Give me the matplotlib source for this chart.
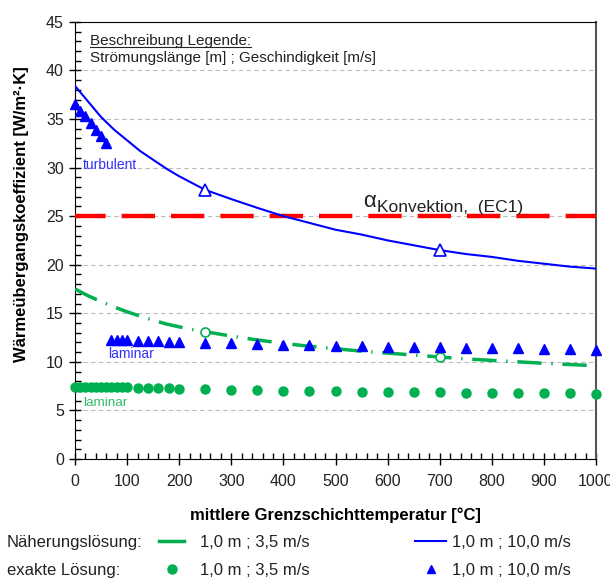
import matplotlib.pyplot as plt
import numpy as np
from matplotlib.lines import Line2D
from matplotlib.ticker import MultipleLocator

plt.rcParams["font.family"] = ["Liberation Sans", "DejaVu Sans"]

# Naeherungsloesung (approximation curves)
temp_curve = [0, 25, 50, 75, 100, 125, 150, 175, 200, 225, 250, 300, 350, 400, 450,
              500, 550, 600, 650, 700, 750, 800, 850, 900, 950, 1000]
alpha_turb_10 = [38.4, 36.8, 35.2, 33.9, 32.8, 31.7, 30.8, 29.9, 29.1, 28.4, 27.7,
                 26.75, 25.85, 25.0, 24.3, 23.6, 23.1, 22.5, 22.0, 21.5, 21.1, 20.8,
                 20.4, 20.1, 19.8, 19.6]
alpha_lam_35 = [17.5, 16.8, 16.2, 15.65, 15.15, 14.7, 14.28, 13.9, 13.6, 13.33, 13.1,
                12.65, 12.25, 11.9, 11.6, 11.35, 11.1, 10.9, 10.7, 10.5, 10.3, 10.15,
                10.0, 9.85, 9.72, 9.6]
temp_check = [250, 700]
check_turb_10 = [27.7, 21.5]
check_lam_35 = [13.1, 10.5]

# exakte Loesung, 1,0 m ; 10,0 m/s (turbulent up to 60 degC, laminar above)
temp_exact_turb = [0, 10, 20, 30, 40, 50, 60]
exact_turb_10 = [36.5, 35.8, 35.3, 34.6, 33.9, 33.2, 32.5]
temp_exact_lam = [70, 80, 90, 100, 120, 140, 160, 180, 200, 250, 300, 350, 400, 450,
                  500, 550, 600, 650, 700, 750, 800, 850, 900, 950, 1000]
exact_lam_10 = [12.2, 12.2, 12.2, 12.2, 12.15, 12.1, 12.1, 12.05, 12.0, 11.95, 11.9,
                11.85, 11.75, 11.7, 11.65, 11.6, 11.55, 11.5, 11.5, 11.45, 11.4,
                11.4, 11.35, 11.3, 11.25]

# exakte Loesung, 1,0 m ; 3,5 m/s
temp_exact_35 = [0, 10, 20, 30, 40, 50, 60, 70, 80, 90, 100, 120, 140, 160, 180, 200,
                 250, 300, 350, 400, 450, 500, 550, 600, 650, 700, 750, 800, 850, 900,
                 950, 1000]
exact_35 = [7.45, 7.45, 7.45, 7.45, 7.44, 7.43, 7.42, 7.41, 7.4, 7.38, 7.36, 7.34,
            7.32, 7.3, 7.28, 7.25, 7.18, 7.12, 7.07, 7.02, 6.98, 6.95, 6.92, 6.9,
            6.88, 6.85, 6.83, 6.8, 6.8, 6.78, 6.76, 6.72]

alpha_ec1 = 25.0

blue = "#0000ff"
green = "#00b050"
red = "#ff0000"
dark = "#222222"

fig = plt.figure(figsize=(6.10, 5.79), dpi=100)
ax = fig.add_axes([0.123, 0.2073, 0.854, 0.755])

ax.set_xlim(0, 1000)
ax.set_ylim(0, 45)
ax.yaxis.grid(True, color="#bbbbbb", linestyle=(0, (4, 3)), linewidth=0.8)
ax.set_axisbelow(True)

ax.axhline(alpha_ec1, color=red, linewidth=3.2, linestyle=(0.6, (7.5, 3.6)), zorder=3)

ax.plot(temp_curve, alpha_turb_10, color=blue, linewidth=1.5, zorder=4)
ax.plot(temp_curve, alpha_lam_35, color=green, linewidth=2.5,
        linestyle=(0, (7, 2.8, 0.4, 2.8)), zorder=4)
ax.plot(temp_check, check_turb_10, linestyle="none", marker="^", markersize=9,
        markerfacecolor="white", markeredgecolor=blue, markeredgewidth=1.2, zorder=5)
ax.plot(temp_check, check_lam_35, linestyle="none", marker="o", markersize=6.5,
        markerfacecolor="white", markeredgecolor=green, markeredgewidth=1.2, zorder=5)

ax.plot(temp_exact_turb, exact_turb_10, linestyle="none", marker="^", markersize=7,
        color=blue, zorder=5, clip_on=False)
ax.plot(temp_exact_lam, exact_lam_10, linestyle="none", marker="^", markersize=7,
        color=blue, zorder=5, clip_on=False)
ax.plot(temp_exact_35, exact_35, linestyle="none", marker="o", markersize=6.5,
        color=green, zorder=5, clip_on=False)

# axes, ticks
ax.xaxis.set_major_locator(MultipleLocator(100))
ax.xaxis.set_minor_locator(MultipleLocator(20))
ax.yaxis.set_major_locator(MultipleLocator(5))
ax.yaxis.set_minor_locator(MultipleLocator(1))
ax.tick_params(which="major", direction="inout", length=9, width=1,
               labelsize=11.5, labelcolor=dark)
ax.tick_params(axis="x", which="major", pad=6)
ax.tick_params(which="minor", direction="in", length=4, width=1)
for side in ("left", "bottom", "top"):
    ax.spines[side].set_color("black")
ax.spines["right"].set_color("#555555")
ax.spines["right"].set_linewidth(1.5)

ax.set_xlabel("mittlere Grenzschichttemperatur [°C]", fontsize=12, fontweight="bold")
ax.set_ylabel("Wärmeübergangskoeffizient [W/m²·K]", fontsize=12, fontweight="bold")
ax.xaxis.set_label_coords(0.5, -0.112)
ax.yaxis.set_label_coords(-0.088, 0.56)

# annotations in the plot
head = ax.text(29, 43.0, "Beschreibung Legende:", fontsize=11, color=dark,
               va="center")
ax.text(29, 41.3, "Strömungslänge [m] ; Geschindigkeit [m/s]", fontsize=11,
        color=dark, va="center")
ax.text(15, 30.3, "turbulent", fontsize=10, color="#3030ff", va="center")
ax.text(63, 10.8, "laminar", fontsize=10, color="#3030ff", va="center")
ax.text(15, 5.8, "laminar", fontsize=9.7, color="#33bb66", va="center")
ax.text(553, 26.5, "α", fontsize=16, color=dark, va="center")
ax.text(580, 25.9, "Konvektion,  (EC1)", fontsize=12.5, color=dark, va="center")

# underline for the legend heading
fig.canvas.draw()
bb = head.get_window_extent()
fig.add_artist(Line2D([bb.x0, bb.x1], [bb.y0 + 1, bb.y0 + 1], color=dark,
                      linewidth=0.8, transform=None))

# legend below the plot
fig.text(7 / 610, 1 - 543 / 579, "Näherungslösung:", fontsize=12, va="center",
         color=dark)
fig.text(7 / 610, 1 - 570 / 579, "exakte Lösung:", fontsize=12, va="center",
         color=dark)
fig.legend(
    [Line2D([], [], color=green, linewidth=2.5),
     Line2D([], [], color=green, marker="o", linestyle="none", markersize=6.5)],
    ["1,0 m ; 3,5 m/s", "1,0 m ; 3,5 m/s"],
    frameon=False, fontsize=12, labelcolor=dark, loc="center left",
    bbox_to_anchor=(159 / 610, 1 - 556.5 / 579), borderpad=0, borderaxespad=0,
    handlelength=1.5, handletextpad=0.95, labelspacing=0.75)
fig.legend(
    [Line2D([], [], color=blue, linewidth=1.5),
     Line2D([], [], color=blue, marker="^", linestyle="none", markersize=6)],
    ["1,0 m ; 10,0 m/s", "1,0 m ; 10,0 m/s"],
    frameon=False, fontsize=12, labelcolor=dark, loc="center left",
    bbox_to_anchor=(415 / 610, 1 - 556.5 / 579), borderpad=0, borderaxespad=0,
    handlelength=1.86, handletextpad=0.36, labelspacing=0.75)

fig.savefig("out.png", dpi=100)
